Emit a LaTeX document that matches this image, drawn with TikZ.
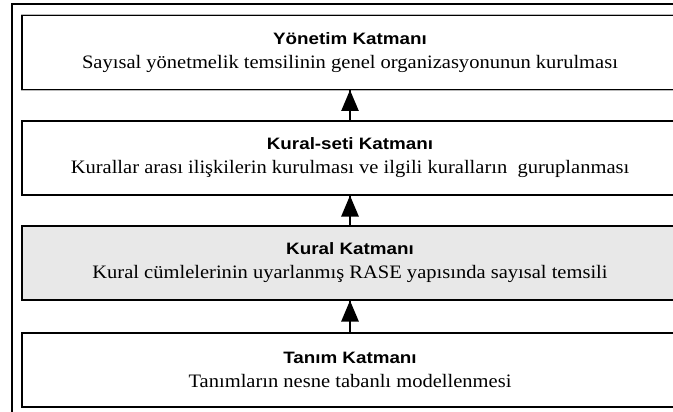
\documentclass[tikz,border=0pt]{standalone}
\usepackage{fontspec}
\setmainfont[FakeStretch=1.08]{Liberation Serif}
\setsansfont[FakeStretch=1.14]{Liberation Sans}
\usetikzlibrary{arrows}
\usetikzlibrary{decorations.markings}
\tikzset{uparrow/.style = {line width=1.2pt,
                           decoration={markings,
                                       mark=at position 1 with {\arrow[scale=2.2]{triangle 45}}},
                           postaction={decorate}}}
\tikzset{layer/.style = {draw, line width=1.2pt, fill=white,
                         preaction={draw=gray!55, line width=2.6pt},
                         minimum width=656, minimum height=74, inner sep=0,
                         align=center, font=\fontsize{19}{24}\selectfont}}
\tikzset{frame/.style = {draw, line width=1.4pt}}
\definecolor{lgray}{rgb}{0.91, 0.91, 0.91}
\newcommand{\baslik}[1]{{\sffamily\bfseries\fontsize{16.5}{18}\selectfont #1}}

\begin{document}
\begin{tikzpicture}[x=1pt, y=-1pt]
    \useasboundingbox (0, 0) rectangle (673, 412);
    \draw [frame] (12, 4) rectangle (690, 425);

    \node [layer] (yonetim) at (350, 52.5)
      {\baslik{Yönetim Katmanı}\\Sayısal yönetmelik temsilinin genel organizasyonunun kurulması};
    \node [layer] (kuralseti) at (350, 158)
      {\baslik{Kural-seti Katmanı}\\Kurallar arası ilişkilerin kurulması ve ilgili kuralların~ guruplanması};
    \node [layer, fill=lgray] (kural) at (350, 263)
      {\baslik{Kural Katmanı}\\Kural cümlelerinin uyarlanmış RASE yapısında sayısal temsili};
    \node [layer] (tanim) at (350, 370)
      {\baslik{Tanım Katmanı}\\Tanımların nesne tabanlı modellenmesi};

    \draw [uparrow] (tanim.north) -- (kural.south);
    \draw [uparrow] (kural.north) -- (kuralseti.south);
    \draw [uparrow] (kuralseti.north) -- (yonetim.south);
  \end{tikzpicture}
\end{document}
